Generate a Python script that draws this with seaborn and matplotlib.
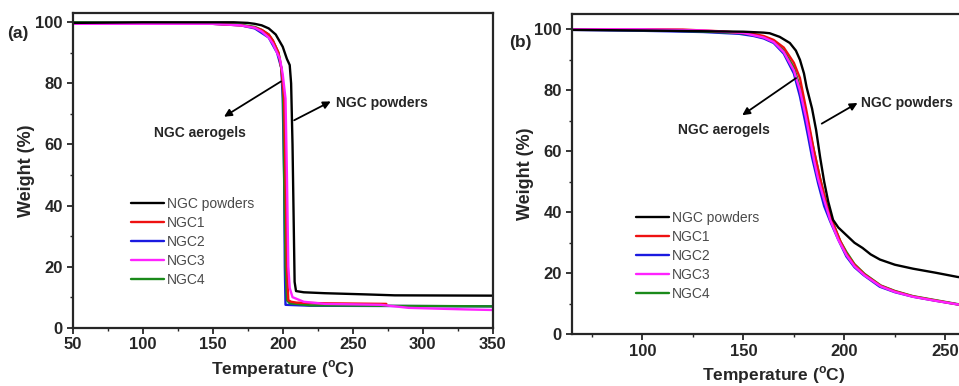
import numpy as np
import pandas as pd
import matplotlib
matplotlib.use("Agg")
import matplotlib.pyplot as plt
import seaborn as sns
from matplotlib.ticker import MultipleLocator

sns.set_style("ticks")
plt.rcParams['font.family'] = ['Liberation Sans', 'DejaVu Sans']
plt.rcParams['mathtext.fontset'] = 'custom'
plt.rcParams['mathtext.rm'] = 'Liberation Sans:bold'
plt.rcParams['mathtext.bf'] = 'Liberation Sans:bold'

series_names = ["NGC powders", "NGC1", "NGC2", "NGC3", "NGC4"]
colors = ["#000000", "#ee1111", "#1a1ae0", "#ff22ff", "#1a8a1a"]

# ---- Panel (a) data ----
a_powders_T = [50, 100, 150, 165, 175, 180, 185, 190, 195, 200, 203, 205, 206, 207, 208, 208.5, 209.5, 215, 230, 260, 280, 350]
a_powders_W = [99.8, 100, 100, 100, 99.8, 99.5, 99, 98, 96, 92, 88, 86, 80, 60, 30, 15, 12, 11.6, 11.3, 10.9, 10.6, 10.5]
a_ngc1_T = [50, 100, 150, 170, 180, 185, 190, 193, 197, 199, 201, 202, 203, 204, 206, 210, 230, 274]
a_ngc1_W = [99.6, 99.6, 99.5, 99, 98.3, 97.5, 96, 94, 90, 85, 75, 50, 20, 9, 8.5, 8.2, 8.0, 7.8]
a_ngc2_T = [50, 100, 150, 170, 180, 185, 190, 196, 199, 200, 201, 201.5, 202, 220, 350]
a_ngc2_W = [99.8, 99.7, 99.5, 99, 98, 96.5, 95, 90, 85, 75, 50, 20, 7.5, 7.2, 7.0]
a_ngc3_T = [50, 100, 150, 170, 180, 185, 190, 193, 198, 200, 202, 203, 204, 205, 207, 215, 230, 270, 290, 330, 350]
a_ngc3_W = [99.5, 99.5, 99.5, 99, 98.2, 97, 95, 93, 88, 83, 75, 50, 20, 13, 10, 8.5, 7.8, 7.5, 6.5, 6.0, 5.8]
a_ngc4_T = [50, 100, 150, 170, 180, 185, 190, 193, 197, 199, 200, 200.5, 201, 202, 203, 205, 220, 350]
a_ngc4_W = [100, 99.8, 99.6, 99.2, 98.5, 97.5, 96, 94, 90, 85, 80, 70, 50, 20, 9, 8, 7.3, 7.0]

# ---- Panel (b) data ----
b_powders_T = [65, 100, 150, 160, 163, 168, 173, 176, 178, 180, 181.3, 184, 186, 188, 190, 192, 194.4, 197, 201, 205, 209, 213, 217.6, 225, 234, 245, 256, 262]
b_powders_W = [99.8, 99.6, 99.2, 98.9, 98.7, 97.5, 95.5, 93, 90, 85.5, 81, 74, 67, 58, 50, 43.5, 37.5, 35, 32.5, 30, 28.3, 26.2, 24.5, 22.8, 21.5, 20.2, 18.8, 18.3]
b_ngc1_T = [65, 100, 120, 140, 155, 160, 165, 170, 175, 178, 181, 183, 185, 188, 191, 194, 198, 201, 205, 210, 218, 225, 234, 245, 256, 262]
b_ngc1_W = [100, 100, 99.9, 99.3, 98.5, 97.8, 96.5, 94, 89, 84, 74, 67, 60, 51, 43, 37, 30.5, 26.5, 22.8, 19.6, 15.9, 14.1, 12.4, 11.1, 9.8, 9.3]
b_ngc2_T = [65, 100, 130, 148, 155, 160, 165, 170, 175, 178, 180.5, 182, 184, 187, 190, 193, 197, 201, 205, 209.5, 217.5, 225, 234, 245, 256, 262]
b_ngc2_W = [99.8, 99.5, 99.1, 98.5, 97.8, 97, 95.5, 92, 85.5, 78, 70, 65, 58, 49.5, 42, 37, 31, 25.5, 22, 19.4, 15.6, 13.8, 12.3, 11, 9.8, 9.3]
b_ngc3_T = [65, 100, 130, 150, 160, 165, 170, 175, 178, 181, 183, 185, 187, 190, 193, 197, 201, 205, 210, 218, 225, 234, 245, 256, 262]
b_ngc3_W = [100, 100, 99.6, 98.8, 97.3, 95.8, 92.5, 86.5, 80, 71, 64, 57, 51, 44, 37.5, 31, 26, 22.3, 19.3, 15.7, 13.9, 12.3, 11.0, 9.8, 9.3]
b_ngc4_T = [65, 100, 130, 150, 160, 165, 170, 175, 178, 181, 183, 185, 188, 191, 194, 198, 201, 205, 210, 218, 225, 234, 245, 256, 262]
b_ngc4_W = [99.9, 99.7, 99.3, 98.7, 97.5, 96, 93, 87.5, 81, 72, 66, 60, 51, 43, 37, 30.5, 27, 23, 19.8, 16, 14.2, 12.5, 11.2, 9.9, 9.4]


def long_df(Ts, Ws):
    frames = []
    for name, T, W in zip(series_names, Ts, Ws):
        frames.append(pd.DataFrame({"T": T, "W": W, "sample": name}))
    return pd.concat(frames, ignore_index=True)


df_a = long_df([a_powders_T, a_ngc1_T, a_ngc2_T, a_ngc3_T, a_ngc4_T],
               [a_powders_W, a_ngc1_W, a_ngc2_W, a_ngc3_W, a_ngc4_W])
df_b = long_df([b_powders_T, b_ngc1_T, b_ngc2_T, b_ngc3_T, b_ngc4_T],
               [b_powders_W, b_ngc1_W, b_ngc2_W, b_ngc3_W, b_ngc4_W])

fig = plt.figure(figsize=(9.59, 3.86), dpi=100)
ax_a = fig.add_axes([0.0758, 0.151, 0.438, 0.815])
ax_b = fig.add_axes([0.5961, 0.134, 0.4213, 0.8297])

palette = dict(zip(series_names, colors))
draw_order = ["NGC2", "NGC4", "NGC1", "NGC3", "NGC powders"]

for ax, df in [(ax_a, df_a), (ax_b, df_b)]:
    for name in draw_order:
        sub = df[df["sample"] == name]
        sns.lineplot(data=sub, x="T", y="W", color=palette[name], lw=1.7,
                     ax=ax, sort=False, estimator=None, label=name)

ax_a.set_xlim(50, 350)
ax_a.set_ylim(0, 103)
ax_b.set_xlim(65, 265)
ax_b.set_ylim(0, 105)

ax_a.xaxis.set_major_locator(MultipleLocator(50))
ax_a.xaxis.set_minor_locator(MultipleLocator(25))
ax_b.xaxis.set_major_locator(MultipleLocator(50))
ax_b.xaxis.set_minor_locator(MultipleLocator(25))
for ax in (ax_a, ax_b):
    ax.yaxis.set_major_locator(MultipleLocator(20))
    ax.yaxis.set_minor_locator(MultipleLocator(10))
    ax.tick_params(which='major', direction='out', length=4, width=1.3,
                   labelsize=12, pad=3)
    ax.tick_params(which='minor', direction='out', length=2.5, width=1.0)
    for lab in ax.get_xticklabels() + ax.get_yticklabels():
        lab.set_fontweight('bold')
    for sp in ax.spines.values():
        sp.set_linewidth(1.6)
        sp.set_visible(True)
    ax.set_xlabel(r'Temperature ($^{\mathrm{o}}$C)', fontsize=12.5, fontweight='bold', labelpad=4)
    ax.set_ylabel('Weight (%)', fontsize=13, fontweight='bold', labelpad=0)

# Legends
for ax, anchor in [(ax_a, (0.139, 0.415)), (ax_b, (0.159, 0.385))]:
    handles, labels = ax.get_legend_handles_labels()
    hmap = dict(zip(labels, handles))
    leg = ax.legend([hmap[n] for n in series_names], series_names,
                    loc='upper left', bbox_to_anchor=anchor, frameon=False,
                    fontsize=10, handlelength=2.4, handletextpad=0.2,
                    labelspacing=0.36, borderpad=0, borderaxespad=0)
    for t in leg.get_texts():
        t.set_color('#4a4a4a')

arrow = dict(arrowstyle='-|>', color='black', lw=1.3, mutation_scale=11)

# Panel (a) annotations
ax_a.annotate('', xy=(156.4, 68.6), xytext=(200.4, 81.1), arrowprops=arrow)
ax_a.text(140.7, 63.6, 'NGC aerogels', ha='center', va='center', fontsize=10, fontweight='bold')
ax_a.annotate('', xy=(236.1, 74.5), xytext=(206.4, 67.5), arrowprops=arrow)
ax_a.text(238, 73.7, 'NGC powders', ha='left', va='center', fontsize=10, fontweight='bold')

# Panel (b) annotations
ax_b.annotate('', xy=(148.3, 71.3), xytext=(177.2, 84.5), arrowprops=arrow)
ax_b.text(140.4, 67, 'NGC aerogels', ha='center', va='center', fontsize=10, fontweight='bold')
ax_b.annotate('', xy=(207.7, 76.3), xytext=(187.6, 68.6), arrowprops=arrow)
ax_b.text(208.2, 75.7, 'NGC powders', ha='left', va='center', fontsize=10, fontweight='bold')

fig.text(0.007, 0.9145, '(a)', fontsize=12.5, fontweight='bold', va='center', ha='left')
fig.text(0.531, 0.889, '(b)', fontsize=12.5, fontweight='bold', va='center', ha='left')

fig.savefig('out.png', dpi=100)
